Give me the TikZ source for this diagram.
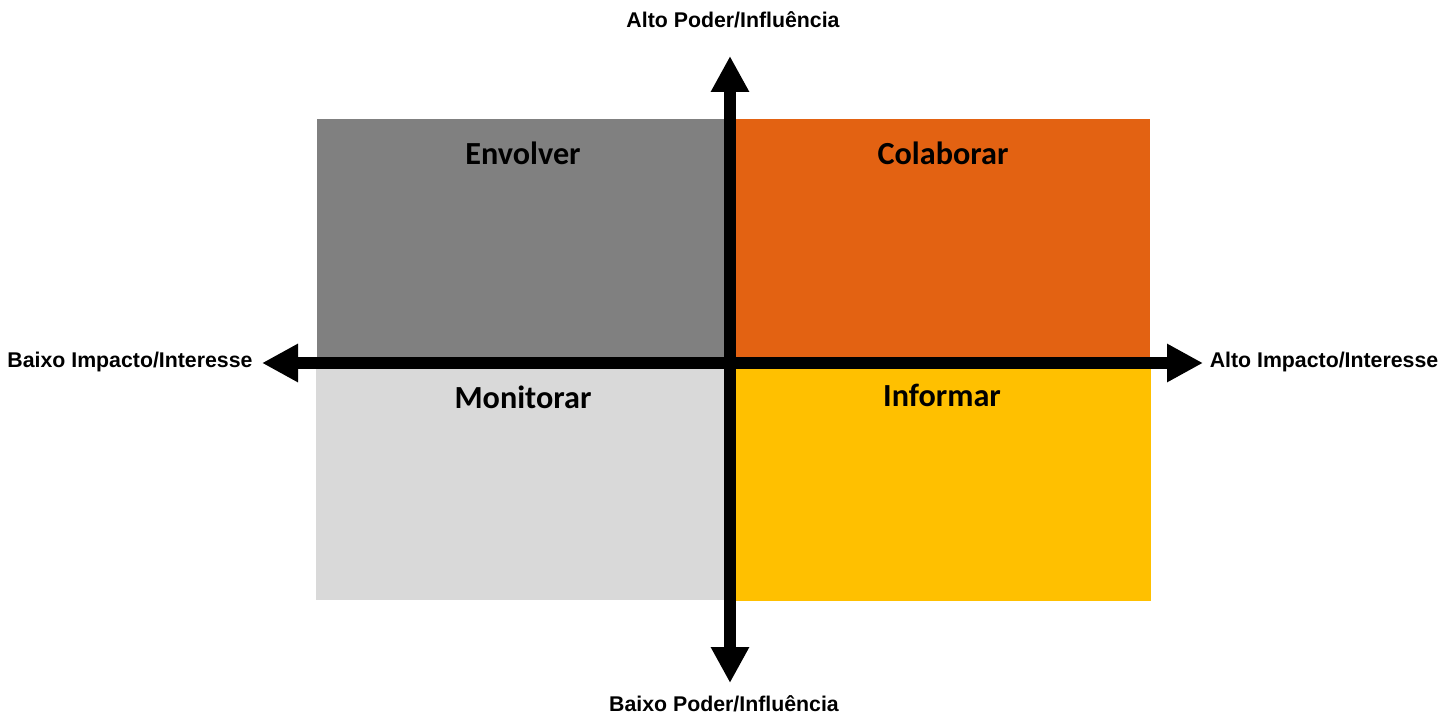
\documentclass[tikz,border=0pt]{standalone}
\usepackage{fontspec}
\setmainfont{Liberation Sans}
\newfontfamily\calib{Carlito}
\usetikzlibrary{arrows.meta}
\definecolor{qgray}{RGB}{128,128,128}
\definecolor{qorange}{RGB}{227,98,18}
\definecolor{qlight}{RGB}{217,217,217}
\definecolor{qyellow}{RGB}{255,192,0}
\tikzset{
  qlabel/.style={font=\calib\bfseries\fontsize{32.2}{36}\selectfont, text=black, inner sep=0pt},
  axlabel/.style={font=\bfseries\fontsize{21.3}{24}\selectfont, text=black, inner sep=0pt},
  axis/.style={line width=12pt, draw=black, {Triangle[length=36pt,width=36pt]}-{Triangle[length=36pt,width=36pt]}}
}
\begin{document}
\begin{tikzpicture}[x=1pt,y=-1pt]
\useasboundingbox (0,0) rectangle (1456,714);
% quadrants
\fill[qgray]   (317,119) rectangle (730,362);
\fill[qorange] (730,119) rectangle (1150,362);
\fill[qlight]  (316,362) rectangle (730,600);
\fill[qyellow] (730,362) rectangle (1151,601);
% quadrant labels
\node[qlabel] (env) at (523,153) {Envolver};
\node[qlabel] (col) at (943,153) {Colaborar};
\node[qlabel] (mon) at (523,397) {Monitorar};
\node[qlabel] (inf) at (942,395) {Informar};
% axes
\coordinate (top) at (730,56);
\coordinate (bot) at (730,683);
\coordinate (lft) at (262,363);
\coordinate (rgt) at (1203,363);
\draw[axis] (lft) -- (rgt);
\draw[axis] (bot) -- (top);
% axis labels
\node[axlabel] (altop) at (733,20) {Alto Poder/Influência};
\node[axlabel] (baixop) at (724,704) {Baixo Poder/Influência};
\node[axlabel] (baixoi) at (130,362) {Baixo Impacto/Interesse};
\node[axlabel] (altoi) at (1324,362) {Alto Impacto/Interesse};
\end{tikzpicture}
\end{document}
